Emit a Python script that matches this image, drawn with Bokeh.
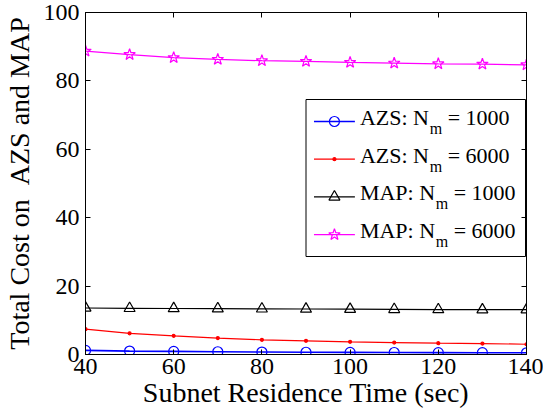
from bokeh.plotting import figure
from bokeh.models import LinearAxis, Range1d, FixedTicker, CustomJSTickFormatter
from bokeh.core.properties import value
from bokeh.embed import file_html
from bokeh.resources import INLINE

# Subnet residence time (sec)
residence_time = [40, 50, 60, 70, 80, 90, 100, 110, 120, 130, 140]

# Total cost for each scheme / number of mobile nodes
azs_1000 = [1.2, 1.0, 0.9, 0.8, 0.72, 0.66, 0.62, 0.58, 0.55, 0.52, 0.5]
azs_6000 = [7.4, 6.2, 5.45, 4.8, 4.3, 4.0, 3.7, 3.5, 3.3, 3.2, 3.0]
map_1000 = [13.6, 13.5, 13.45, 13.4, 13.35, 13.3, 13.25, 13.2, 13.15, 13.1, 13.1]
map_6000 = [88.7, 87.7, 86.8, 86.3, 85.9, 85.7, 85.4, 85.2, 85.0, 84.9, 84.7]

x_ticks = [40, 60, 80, 100, 120, 140]
y_ticks = [0, 20, 40, 60, 80, 100]

legend_prefix = ["AZS: N", "AZS: N", "MAP: N", "MAP: N"]
legend_sub = ["m", "m", "m", "m"]
legend_suffix = ["= 1000", "= 6000", "= 1000", "= 6000"]

FONT = "Liberation Serif"
FRAME_W, FRAME_H = 442, 342

p = figure(width=543, height=415, output_backend="svg", toolbar_location=None,
           x_range=Range1d(40, 140), y_range=Range1d(0, 100),
           min_border_left=84, min_border_right=17, min_border_top=12,
           min_border_bottom=61)
# pixel-space ranges of the plot frame, used to lay out the legend box
p.extra_x_ranges = {"px": Range1d(0, FRAME_W)}
p.extra_y_ranges = {"px": Range1d(0, FRAME_H)}
p.background_fill_color = "white"
p.border_fill_color = "white"
p.outline_line_color = "black"
p.outline_line_width = 1
p.grid.visible = False

xax = p.xaxis[0]
yax = p.yaxis[0]
xax.ticker = FixedTicker(ticks=x_ticks)
yax.ticker = FixedTicker(ticks=y_ticks)
xax.axis_label = "Subnet Residence Time (sec)"
yax.axis_label = "Total Cost on \u00a0AZS and MAP"

# Main axes with inward ticks
for ax in (xax, yax):
    ax.major_tick_in = 5
    ax.major_tick_out = 0
    ax.minor_tick_line_color = None
    ax.axis_line_color = "black"
    ax.major_tick_line_color = "black"
    ax.major_label_text_font = FONT
    ax.major_label_text_font_size = "24px"
    ax.major_label_text_color = "black"
    ax.axis_label_text_font = FONT
    ax.axis_label_text_font_size = "28px"
    ax.axis_label_text_font_style = "normal"
    ax.axis_label_text_color = "black"

xax.major_label_standoff = 4
xax.axis_label_standoff = 0
yax.major_label_standoff = 6
yax.axis_label_standoff = 6

# Box ticks on the top and right sides (no labels)
blank = CustomJSTickFormatter(code="return ''")
top_axis = LinearAxis(ticker=FixedTicker(ticks=x_ticks), major_tick_in=5,
                      major_tick_out=0, minor_tick_line_color=None,
                      formatter=blank, major_label_standoff=0)
right_axis = LinearAxis(ticker=FixedTicker(ticks=y_ticks), major_tick_in=5,
                        major_tick_out=0, minor_tick_line_color=None,
                        formatter=blank, major_label_standoff=0)
p.add_layout(top_axis, "above")
p.add_layout(right_axis, "right")

# Series styles: colour, line width, marker, marker size, marker fill
styles = [
    ("#0000ff", 1.6, "circle", 10, None),
    ("#ff0000", 1.2, "circle", 3, "#ff0000"),
    ("black", 1.2, "triangle", 11, None),
    ("#ff00ff", 1.2, "star", 12, None),
]
series = [azs_1000, azs_6000, map_1000, map_6000]

for ys, (color, lw, marker, size, fill) in zip(series, styles):
    p.line(residence_time, ys, line_color=color, line_width=lw)
    p.scatter(residence_time, ys, marker=marker, size=size, line_color=color,
              fill_color=fill, line_width=1.2)

# Legend box (frame pixel coordinates, origin bottom-left)
BOX_L, BOX_R, BOX_B, BOX_T = 221, 441, 98, 255
ROW0, ROW_STEP = 233, 37.7
SAMPLE_L, SAMPLE_R, TEXT_X = 229, 270, 275
prefix_w = {"AZS: N": 70, "MAP: N": 76}

px = dict(x_range_name="px", y_range_name="px")
p.quad(left=[BOX_L], right=[BOX_R], bottom=[BOX_B], top=[BOX_T],
       fill_color="white", line_color="black", line_width=1, **px)

for i, (color, lw, marker, size, fill) in enumerate(styles):
    ry = ROW0 - i * ROW_STEP
    p.line([SAMPLE_L, SAMPLE_R], [ry, ry], line_color=color, line_width=lw, **px)
    p.scatter([(SAMPLE_L + SAMPLE_R) / 2], [ry], marker=marker, size=size,
              line_color=color, fill_color=fill, line_width=1.2, **px)
    pre = legend_prefix[i]
    sub_x = TEXT_X + prefix_w[pre]
    p.text([TEXT_X], [ry + 4], text=[pre], text_font=value(FONT),
           text_font_size="22px", text_baseline="middle", text_color="black", **px)
    p.text([sub_x], [ry - 7], text=[legend_sub[i]], text_font=value(FONT),
           text_font_size="16px", text_baseline="middle", text_color="black", **px)
    p.text([sub_x + 18], [ry + 4], text=[legend_suffix[i]], text_font=value(FONT),
           text_font_size="22px", text_baseline="middle", text_color="black", **px)

open("out.html", "w").write(file_html(p, INLINE))
